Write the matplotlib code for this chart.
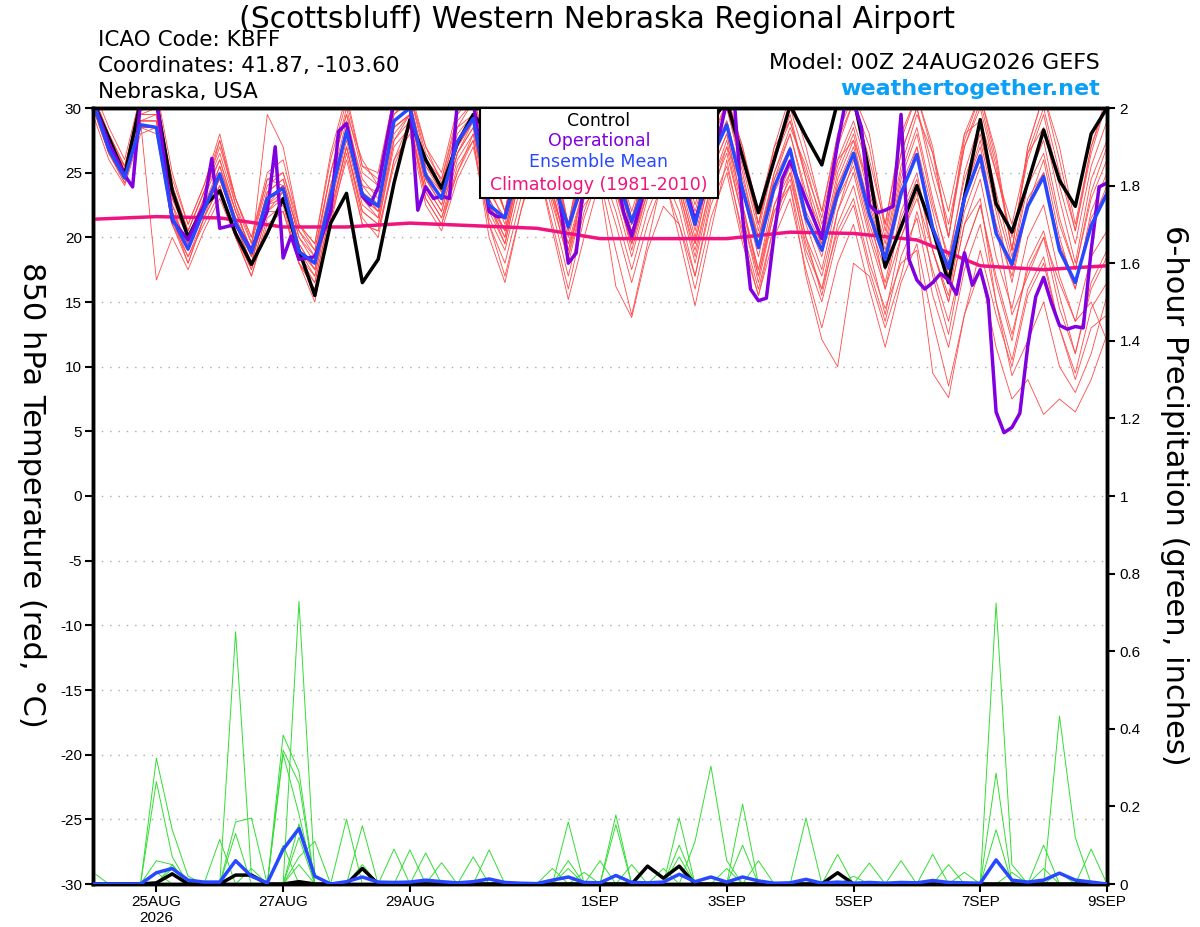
import matplotlib
matplotlib.use("Agg")
import matplotlib.pyplot as plt
from matplotlib.patches import Rectangle

plt.rcParams['font.family'] = ['Liberation Sans', 'DejaVu Sans']
WIDE = ['DejaVu Sans']

# ---------------- data ----------------
hours = list(range(0, 385, 6))  # 00Z 24AUG2026 .. 00Z 09SEP2026, 6-hourly

ens_mean = [30.5, 26.8, 24.6, 28.7, 28.5, 21.5, 19.1, 22.1, 24.9, 21.1, 18.8, 23.0, 23.8, 18.9, 18.0, 23.2,
            28.2, 23.3, 22.4, 29.0, 30.0, 24.8, 23.0, 27.4, 29.2, 22.5, 21.5, 26.0, 28.0, 24.5, 20.8, 24.5,
            27.5, 25.0, 21.2, 24.5, 27.5, 25.0, 21.0, 26.0, 28.7, 23.7, 19.2, 23.9, 26.8, 21.5, 19.0, 23.4,
            26.5, 21.8, 18.3, 23.4, 26.4, 20.7, 17.6, 23.0, 26.3, 20.3, 17.9, 22.4, 24.7, 19.0, 16.5, 20.9, 23.4]

control = [30.5, 27.7, 24.8, 30.5, 30.5, 23.6, 20.0, 22.4, 23.6, 20.3, 17.9, 20.3, 23.0, 19.0, 15.5, 21.1,
           23.4, 16.5, 18.3, 24.2, 29.1, 26.0, 23.8, 27.3, 29.5, 28.0, 26.0, 28.5, 31.0, 27.5, 25.0, 28.0,
           31.0, 28.0, 25.5, 28.0, 31.0, 28.0, 25.5, 29.0, 30.5, 26.2, 21.9, 26.0, 30.2, 27.8, 25.6, 30.5,
           30.8, 25.0, 17.7, 20.8, 24.0, 20.6, 16.5, 23.1, 29.1, 22.6, 20.4, 24.2, 28.3, 24.4, 22.4, 28.0, 30.0]

op_hours = [0, 6, 12, 15, 18, 24, 30, 36, 42, 45, 48, 54, 60, 66, 69, 72, 75, 78, 84, 90, 93, 96,
            102, 105, 108, 114, 120, 123, 126, 129, 132, 135, 138, 144, 150, 153, 156, 162, 168, 174,
            177, 180, 183, 186, 192, 198, 201, 204, 210, 216, 222, 228, 234, 240, 243, 246, 249, 252,
            255, 258, 261, 264, 270, 276, 282, 285, 288, 291, 294, 297, 300, 303, 306, 309, 312, 315,
            318, 321, 324, 327, 330, 333, 336, 339, 342, 345, 348, 351, 354, 357, 360, 363, 366, 369,
            372, 375, 378, 381, 384]
op_temp = [30.5, 27.3, 24.8, 23.9, 30.5, 30.8, 21.3, 19.8, 22.5, 26.1, 20.7, 21.0, 19.0, 22.0, 27.0, 18.4,
           20.1, 18.3, 18.5, 22.0, 28.2, 28.8, 23.2, 22.5, 23.9, 30.5, 30.5, 22.1, 23.9, 23.0, 23.2, 23.0,
           30.5, 30.5, 22.0, 21.6, 21.6, 26.0, 29.0, 25.0, 22.5, 18.0, 18.8, 24.5, 28.0, 25.0, 21.9, 20.1,
           24.5, 28.0, 25.5, 21.3, 25.0, 30.5, 30.2, 21.6, 16.0, 15.1, 15.3, 20.3, 24.5, 25.9, 22.9, 19.9,
           27.3, 30.5, 30.5, 28.5, 22.5, 21.9, 22.1, 22.4, 29.5, 18.3, 16.7, 16.0, 16.5, 17.2, 16.7, 15.6,
           18.8, 16.3, 17.5, 15.2, 6.5, 4.9, 5.3, 6.4, 11.6, 15.4, 16.9, 14.9, 13.2, 12.9, 13.1, 13.0,
           19.0, 23.9, 24.2]

clim_hours = list(range(0, 385, 24))
climatology = [21.4, 21.6, 21.5, 20.8, 20.8, 21.1, 20.9, 20.7, 19.9, 19.9, 19.9, 20.4, 20.3, 19.8, 17.8, 17.5, 17.8]

m01 = [31, 28, 25.5, 30, 31, 24, 20.5, 23.5, 26.5, 22.5, 19.5, 24, 25, 20.5, 19, 25, 30, 25, 24, 30.5, 31, 26.5, 24.5, 29,
       30.5, 25, 22, 27.5, 30, 26, 21, 26, 29.5, 26.5, 21, 26, 29.5, 26.5, 21, 27.5, 30.5, 26, 21, 26, 29, 25, 21.5, 27,
       30.5, 27, 20.5, 26.5, 30, 24.5, 20, 27, 30.5, 25.5, 19, 26.5, 30, 25, 20.5, 27, 30.5]
m02 = [30.5, 27, 24.8, 29, 29, 22, 19.5, 22.5, 25, 21.5, 18.5, 23, 24, 19, 17.5, 23.5, 28.5, 23.5, 22.5, 29, 30, 24.5, 23, 27,
       29.5, 23, 20.5, 25.5, 28.5, 24, 19.5, 24, 28, 25, 20.5, 24.5, 27, 24.5, 20, 25.5, 29, 23.5, 18.5, 24, 27, 22, 19.5, 24,
       27, 22.5, 18.5, 24, 27, 21, 17, 23.5, 27, 21, 17.5, 23, 25, 19.5, 16.5, 21, 24]
m03 = [30, 26.5, 24.2, 28.5, 28, 21, 18.5, 21.5, 24, 20.5, 17.5, 22, 23, 18.5, 17, 22.5, 27.5, 22.5, 21.5, 28, 29.5, 24, 22, 26.5,
       28.5, 22, 19.5, 25, 27, 23, 18, 23, 26.5, 23.5, 19.5, 23.5, 26.5, 23.5, 19, 24, 27.5, 22, 17.5, 22.5, 25.5, 20, 17, 22,
       25, 20, 16, 21.5, 24.5, 19, 15, 21, 24.5, 18.5, 14.5, 20, 22.5, 17, 13.5, 18.5, 20.5]
m04 = [30.5, 27.5, 25, 29.5, 29.5, 22.5, 19, 22, 24.5, 21, 18, 22.5, 23.5, 18, 16.5, 22, 27, 22, 21, 27.5, 29, 23.5, 21.5, 26,
       28, 21.5, 19, 24, 26.5, 22, 17, 22, 25.5, 22, 17.5, 22, 25, 22, 17, 22.5, 25.5, 20.5, 16, 21, 24, 18.5, 15, 20,
       22.5, 17.5, 13.5, 18.5, 21.5, 15.5, 11.5, 17.5, 21, 15, 10.5, 16, 18.5, 13, 9.5, 14.5, 16.5]
m05 = [29.5, 26, 24, 28, 28.5, 21.5, 18.5, 21, 23.5, 20, 17, 21.5, 22.5, 18, 16, 21.5, 27, 22, 21, 27, 28.5, 23, 21, 25.5,
       27.5, 21, 18, 23, 26, 21, 16, 21.5, 25, 21, 16.5, 21, 24.5, 21, 16, 21.5, 25, 19.5, 15.5, 20, 23, 17.5, 13, 18,
       21, 16, 11.5, 16.5, 19.5, 13.5, 8.5, 14, 17.5, 11.5, 7.5, 9, 6.3, 7.5, 6.5, 9, 12.5]
m06 = [31.5, 28.5, 26, 31, 31.5, 25, 21, 24, 27.5, 23, 20, 25, 26, 21, 19.5, 26.5, 31, 25.5, 25, 31, 31.5, 27, 25, 30,
       31, 26, 22, 28, 31, 27, 21, 27, 31, 27, 21, 27, 31, 27, 21, 28, 31, 27, 21, 27, 31, 27, 22, 28,
       31, 28, 21, 28, 31, 27, 20, 28, 31, 26, 19, 27, 31, 27, 21, 27, 31]
m07 = [30.5, 27.5, 25, 29, 16.7, 20, 17.5, 20.5, 23, 20, 17, 21, 22, 18, 16, 21, 26.5, 21, 20.5, 26, 29, 23, 21, 25,
       28, 22.5, 20.5, 26, 28.5, 25.5, 20.5, 25.5, 29, 26, 22, 26, 28.5, 25.5, 20.5, 26.5, 30, 25, 19.5, 25, 28, 23.5, 20.5, 25.5,
       28.5, 23.5, 19, 25, 28.5, 23, 18, 25, 29, 23.5, 18.5, 24.5, 27.5, 21.5, 17.5, 23.5, 27]
m08 = [30, 26.5, 24.5, 28.5, 28.5, 21.5, 19, 22, 24.5, 21, 18, 22.5, 23, 18.5, 16.5, 22, 27, 21.5, 20, 26, 28, 22.5, 20.5, 24.5,
       27, 21, 17, 22, 26, 20.5, 15.2, 20, 24.5, 19, 14, 19.5, 25, 20, 14.7, 20.5, 26, 20, 15.5, 21, 25, 19, 16, 22,
       26, 21, 17.5, 23, 27, 22, 17, 23.5, 27.5, 22, 16.5, 22.5, 26, 20, 16, 22, 25]
m09 = [31, 27.5, 25.5, 30, 30, 23, 20, 23, 26, 22, 19, 23.5, 24.5, 20, 18.5, 24, 29, 24.5, 23, 29.5, 30.5, 25.5, 23.5, 28,
       29.5, 24, 21, 26.5, 29.5, 25, 20.5, 25.5, 29, 25.5, 21.5, 25.5, 29, 25.5, 21.5, 26.5, 30, 25.5, 20.5, 26, 29.5, 24.5, 20.5, 26,
       29, 25, 20, 26.5, 30, 25.5, 21, 27, 30, 25, 20, 26, 29.5, 24, 19.5, 25.5, 29]
m10 = [30, 27, 24.5, 29, 29, 21.5, 18, 21.5, 24, 20, 17.5, 22, 23.5, 19, 17, 23, 28.5, 23, 22, 28.5, 29.5, 24, 22, 26.5,
       29, 22.5, 20, 25.5, 28, 23.5, 19, 24, 27, 24, 19.5, 24, 27, 24, 19.5, 25, 28, 22.5, 17, 22, 24, 17, 12.1, 10,
       18, 17, 13, 17, 22, 17.5, 13.5, 19, 22.5, 17, 12.5, 17.5, 20, 14.5, 11, 16, 18.5]
m11 = [30.5, 26.8, 24.5, 29, 29.5, 22, 19, 22.5, 25.5, 22, 19, 23.5, 24.5, 20, 18, 24, 28, 24, 22.5, 28.5, 29.5, 24.5, 22.5, 26.5,
       28.5, 22.5, 19.5, 25, 27.5, 22.5, 18.5, 23, 26.5, 23, 18.5, 23, 26, 23, 18, 23.5, 26.5, 21.5, 17, 22.5, 25, 20, 15.5, 21,
       24, 19, 14, 20, 23.5, 17, 12.5, 19, 22.5, 16.5, 12, 18, 20.5, 15.5, 11, 16.5, 19]
m12 = [30.5, 27.2, 25, 29.5, 30, 23, 20.5, 23.5, 26, 22, 19, 29.5, 27, 21, 19, 25, 29.5, 24, 23.5, 30, 30.5, 25.5, 24, 28.5,
       29.5, 23.5, 21.5, 27, 29, 24.5, 20, 25, 28.5, 26, 21.5, 25.5, 28.5, 26, 22, 26.5, 29, 24.5, 20, 24.5, 28, 23, 19.5, 25,
       28, 23, 18.5, 24.5, 28, 22.5, 18.5, 24.5, 28, 22.5, 18, 24, 26.5, 21, 17.5, 23, 26]
m13 = [30, 26.5, 24.2, 28.5, 28.5, 21, 18, 21.5, 25, 21, 18, 23, 24, 19.5, 17.5, 23.5, 28, 23, 21.5, 27.5, 29.5, 25, 23, 27,
       29, 23, 20.5, 26, 28, 23.5, 19, 23.5, 27.5, 24, 19, 23.5, 26.5, 23.5, 18.5, 24, 27, 21.5, 16.5, 22, 24.5, 19.5, 16, 20.5,
       23, 18, 14.5, 18, 19, 9.5, 7.6, 14, 19, 14, 10, 15.5, 18, 13, 9, 13, 14]
m14 = [31, 28, 25.5, 30.5, 30.5, 24, 20.5, 23.5, 27, 23, 20, 24.5, 25, 21, 19.5, 26, 30.5, 25.5, 24.5, 31, 31, 26, 24.5, 29.5,
       31, 25.5, 22, 28, 30.5, 26.5, 21, 27, 30.5, 27, 21, 26.5, 30.5, 26.5, 21, 28, 31, 26.5, 21, 26.5, 30, 26, 22, 27.5,
       30.5, 26, 21, 27.5, 31, 26.5, 20, 27.5, 31, 26.5, 19, 27, 31, 26, 20.5, 26.5, 30.5]
m15 = [30.5, 26.5, 24.5, 28.5, 28.5, 21, 19, 22, 25.5, 21.5, 19, 23, 23.5, 18.5, 18, 23, 28.5, 23.5, 22, 29, 30, 25, 23.5, 27.5,
       29, 22.5, 21.5, 26, 28, 24.5, 21, 25, 27.5, 25, 21, 24.5, 27.5, 25, 21.5, 26, 28.5, 24, 19.5, 24.5, 27, 21.5, 18.5, 24,
       26.5, 21.5, 18, 23.5, 26.5, 20.5, 17.5, 23, 26, 20.5, 17, 22.5, 25, 19, 16, 21.5, 23.5]
m16 = [30, 27, 24.8, 29, 29, 22, 19.5, 22.5, 24.5, 21, 18.5, 22.5, 24, 19.5, 17.5, 23, 28, 23.5, 22, 28.5, 29.5, 24.5, 22.5, 27,
       29, 22.5, 20, 25.5, 27.5, 23.5, 18.5, 24, 27, 23.5, 19.5, 24, 27, 24, 19.5, 25, 28, 22.5, 17.5, 23.5, 26, 21, 17.5, 23,
       25.5, 20.5, 16.5, 22, 25, 19, 15, 21, 23, 15, 9.3, 12, 15, 10, 8, 11, 15.5]
m17 = [30.5, 27, 25.5, 29.5, 29.5, 22.5, 20, 23, 27.5, 22.5, 18.5, 22, 22, 18, 15, 21.5, 26, 21, 20.5, 25.5, 28.5, 23.5, 21.5, 25,
       27.5, 20, 16.5, 22, 27, 23, 19.5, 22.5, 24, 16.2, 13.8, 19, 22.4, 21, 17, 23, 27, 24, 20, 25, 28.5, 25.5, 21, 26,
       27.5, 22, 16, 20, 23, 19, 15.5, 22, 25.5, 21, 14, 17, 20, 16.5, 13.5, 15, 12]
m18 = [31, 27.8, 25.2, 29.8, 30.2, 24.5, 21, 24, 28, 23, 19.6, 24.5, 24, 20.5, 18.5, 25, 29.5, 26, 24, 29.5, 31, 27, 24.2, 28.5,
       30.5, 25.5, 22, 27.5, 30.5, 26.5, 20.5, 26.5, 30.5, 26, 20, 26, 30, 27, 22.5, 27, 30.5, 27, 22, 27, 29, 24.5, 19, 24.5,
       27.5, 24, 19.5, 25.5, 29.5, 26.5, 22, 28, 29, 25, 21, 26.5, 28.5, 23, 18, 24.5, 27.5]
members = [m01, m02, m03, m04, m05, m06, m07, m08, m09, m10, m11, m12, m13, m14, m15, m16, m17, m18]

Z = 0
p01 = [Z, Z, Z, Z, .324, .14, .02, Z, Z, Z, Z, Z, Z, .728, .02, Z, Z, Z, Z, Z, Z, Z, Z, Z, Z, Z, Z, Z, Z, Z, .16, Z,
       Z, Z, Z, Z, Z, Z, Z, Z, Z, Z, Z, Z, Z, Z, Z, Z, Z, Z, Z, Z, Z, Z, Z, Z, Z, .724, .05, Z, Z, Z, Z, Z, Z]
p02 = [Z, Z, Z, Z, .264, .07, Z, Z, Z, .65, .02, Z, Z, Z, Z, Z, Z, Z, Z, Z, Z, Z, Z, Z, Z, Z, Z, Z, Z, Z, Z, Z,
       Z, .178, Z, Z, Z, Z, .11, .304, .06, Z, Z, Z, Z, Z, Z, Z, Z, Z, Z, Z, Z, Z, Z, Z, Z, Z, Z, Z, Z, .433, .12, Z, Z]
p03 = [Z, Z, Z, Z, Z, .05, Z, Z, Z, .16, .17, Z, .384, .29, Z, Z, Z, Z, Z, Z, Z, Z, Z, Z, Z, Z, Z, Z, Z, Z, Z, Z,
       Z, Z, Z, Z, Z, .17, Z, Z, Z, Z, Z, Z, Z, Z, Z, Z, Z, Z, Z, Z, Z, Z, Z, Z, Z, .286, Z, Z, Z, Z, Z, Z, Z]
p04 = [Z, Z, Z, Z, .06, .05, Z, Z, Z, Z, Z, Z, .345, .26, Z, Z, Z, Z, Z, Z, Z, Z, Z, Z, Z, Z, Z, Z, Z, Z, Z, Z,
       Z, Z, Z, Z, Z, Z, Z, Z, Z, .206, Z, Z, Z, Z, Z, Z, Z, Z, Z, Z, Z, Z, Z, Z, Z, .14, Z, Z, Z, Z, Z, Z, Z]
p05 = [Z, Z, Z, Z, Z, .04, Z, Z, Z, Z, Z, Z, .335, .18, Z, Z, .167, Z, Z, Z, Z, Z, Z, Z, Z, Z, Z, Z, Z, Z, Z, Z,
       Z, .153, Z, Z, Z, Z, Z, Z, Z, Z, Z, Z, Z, .17, Z, Z, Z, Z, Z, Z, Z, Z, Z, Z, Z, Z, Z, Z, Z, Z, Z, Z, Z]
p06 = [Z, Z, Z, Z, Z, Z, Z, Z, .115, Z, Z, Z, Z, .155, Z, Z, Z, .15, Z, Z, Z, Z, Z, Z, Z, Z, Z, Z, Z, Z, Z, Z,
       Z, Z, Z, Z, Z, .10, Z, Z, Z, Z, Z, Z, Z, Z, Z, Z, Z, Z, Z, Z, Z, Z, Z, Z, Z, Z, Z, Z, .10, Z, Z, Z, Z]
p07 = [Z, Z, Z, Z, Z, Z, Z, Z, Z, .13, Z, Z, Z, .07, .11, Z, Z, Z, Z, Z, .088, Z, Z, Z, Z, .088, Z, Z, Z, Z, Z, Z,
       Z, Z, Z, Z, Z, Z, Z, Z, Z, Z, Z, Z, Z, Z, Z, Z, Z, Z, Z, Z, Z, Z, Z, Z, Z, Z, Z, Z, Z, Z, Z, .09, Z]
p08 = [.03, Z, Z, Z, .03, Z, Z, Z, Z, Z, Z, Z, Z, Z, Z, Z, Z, .05, Z, Z, Z, .08, Z, Z, .07, Z, Z, Z, Z, Z, .06, Z,
       Z, Z, Z, Z, Z, Z, Z, Z, Z, .10, Z, Z, Z, Z, Z, Z, Z, Z, Z, Z, Z, .077, Z, Z, Z, Z, Z, Z, Z, Z, Z, Z, Z]
p09 = [Z, Z, Z, Z, Z, Z, Z, Z, Z, Z, Z, Z, Z, Z, Z, Z, Z, Z, Z, .09, Z, Z, .055, Z, Z, Z, Z, Z, Z, Z, Z, Z,
       .06, Z, Z, Z, Z, .07, Z, Z, Z, Z, .06, Z, Z, Z, Z, .076, Z, Z, Z, .06, Z, Z, Z, Z, Z, Z, Z, Z, Z, Z, Z, Z, Z]
p10 = [Z, Z, Z, Z, Z, Z, Z, Z, Z, Z, .04, Z, Z, .05, Z, Z, Z, Z, Z, Z, Z, Z, Z, Z, Z, Z, Z, Z, Z, Z, .04, Z,
       Z, Z, .05, Z, Z, Z, Z, Z, Z, Z, Z, Z, Z, Z, Z, Z, Z, .054, Z, Z, Z, Z, .05, Z, Z, Z, .03, Z, Z, Z, Z, Z, Z]
p11 = [Z, Z, Z, Z, Z, .03, Z, Z, Z, Z, Z, Z, .10, Z, Z, Z, Z, Z, Z, Z, Z, Z, Z, Z, Z, Z, Z, Z, Z, .04, Z, Z,
       Z, Z, Z, Z, .04, Z, Z, Z, Z, Z, Z, Z, Z, Z, Z, Z, Z, Z, Z, Z, Z, Z, Z, .03, Z, Z, Z, Z, .04, Z, Z, Z, Z]
p12 = [Z, Z, Z, Z, Z, Z, Z, Z, Z, Z, Z, Z, Z, .12, Z, Z, Z, Z, Z, Z, Z, Z, Z, Z, Z, Z, Z, Z, Z, Z, Z, .03,
       Z, Z, Z, Z, Z, Z, Z, Z, .04, Z, Z, Z, Z, Z, Z, Z, .02, Z, Z, Z, Z, Z, Z, Z, Z, Z, Z, Z, Z, .03, Z, Z, Z]
precip_members = [p01, p02, p03, p04, p05, p06, p07, p08, p09, p10, p11, p12]

precip_mean = [0, 0, 0, 0, .029, .04, .01, .005, .005, .06, .02, .003, .089, .143, .02, 0,
               .006, .018, .005, .004, .005, .01, .006, .003, .006, .013, .004, .002, .001, .01, .018, .004,
               .003, .022, .004, .003, .005, .025, .006, .018, .005, .018, .008, .002, .003, .012, .002, .005,
               .002, .004, .002, .004, .003, .009, .004, .003, .002, .062, .01, .005, .01, .028, .01, .005, 0]
precip_control = [0, 0, 0, 0, .003, .026, 0, 0, 0, .023, .023, 0, 0, .006, 0, 0,
                  0, .04, 0, 0, 0, 0, 0, 0, 0, 0, 0, 0, 0, 0, 0, 0,
                  0, 0, 0, .046, .015, .046, 0, 0, 0, 0, 0, 0, 0, 0, 0, .029,
                  0, 0, 0, 0, 0, 0, 0, 0, 0, 0, 0, 0, 0, 0, 0, 0, 0]

tick_hours = [24, 72, 120, 192, 240, 288, 336, 384]
tick_labels = ['25AUG\n2026', '27AUG', '29AUG', '1SEP', '3SEP', '5SEP', '7SEP', '9SEP']
temp_ticks = list(range(-30, 31, 5))
precip_ticks = [0, 0.2, 0.4, 0.6, 0.8, 1, 1.2, 1.4, 1.6, 1.8, 2]
precip_tick_labels = ['0', '0.2', '0.4', '0.6', '0.8', '1', '1.2', '1.4', '1.6', '1.8', '2']

# ---------------- figure ----------------
fig = plt.figure(figsize=(12, 9.27), dpi=100)
ax = fig.add_axes([93 / 1200, 1 - 884 / 927, (1107 - 93) / 1200, (884 - 108) / 927])
ax.set_xlim(0, 384)
ax.set_ylim(-30, 30)

for g in range(-25, 30, 5):
    ax.axhline(g, color='#aaaaaa', lw=1.0, ls=(0, (1, 5)), zorder=0)

for m in members:
    ax.plot(hours, m, color='#ff4a4a', lw=0.6, zorder=2)
ax.plot(clim_hours, climatology, color='#f0147f', lw=2.5, zorder=4)
ax.plot(hours, control, color='black', lw=2.5, zorder=5)
ax.plot(op_hours, op_temp, color='#8000e0', lw=2.5, zorder=6)
ax.plot(hours, ens_mean, color='#2848ff', lw=2.5, zorder=7)

ax.set_yticks(temp_ticks)
ax.set_yticklabels([str(t) for t in temp_ticks])
ax.set_xticks(tick_hours)
ax.set_xticklabels(tick_labels)
ax.tick_params(axis='both', direction='out', length=6, width=1.5, labelsize=11, pad=2)

ax2 = ax.twinx()
ax2.set_ylim(0, 2)
ax2.set_xlim(0, 384)
for p in precip_members:
    ax2.plot(hours, p, color='#33dd33', lw=0.7, zorder=2)
ax2.plot(hours, precip_control, color='black', lw=2.5, zorder=3)
ax2.plot(hours, precip_mean, color='#2848ff', lw=2.5, zorder=4)
ax2.set_yticks(precip_ticks)
ax2.set_yticklabels(precip_tick_labels)
ax2.tick_params(axis='y', direction='out', length=6, width=1.5, labelsize=11, pad=3)

for a in (ax, ax2):
    for s in a.spines.values():
        s.set_linewidth(2.5)
        s.set_color('black')

# legend box
ax2.add_patch(Rectangle((0.3817, 0.884), 0.2347, 0.116, transform=ax2.transAxes,
                        facecolor='white', edgecolor='black', lw=1.5, zorder=20, clip_on=False))
leg = [('Control', 'black', 0.9832), ('Operational', '#8000e0', 0.9575),
       ('Ensemble Mean', '#2848ff', 0.9304), ('Climatology (1981-2010)', '#f0147f', 0.9008)]
for txt, col, yy in leg:
    ax2.text(0.499, yy, txt, color=col, fontsize=12.5, ha='center', va='center', family=WIDE,
             transform=ax2.transAxes, zorder=21)

# header texts
fig.text(0.4975, 0.979, '(Scottsbluff) Western Nebraska Regional Airport', fontsize=21.5,
         ha='center', va='center', family=WIDE)
fig.text(0.0817, 0.9569, 'ICAO Code: KBFF', fontsize=15.5, ha='left', va='center', family=WIDE)
fig.text(0.0817, 0.9288, 'Coordinates: 41.87, -103.60', fontsize=15.5, ha='left', va='center', family=WIDE)
fig.text(0.0817, 0.9008, 'Nebraska, USA', fontsize=15.5, ha='left', va='center', family=WIDE)
fig.text(0.9167, 0.932, 'Model: 00Z 24AUG2026 GEFS', fontsize=16, ha='right', va='center', family=WIDE)
fig.text(0.9167, 0.904, 'weathertogether.net', fontsize=16, ha='right', va='center',
         color='#0aa0f8', fontweight='bold', family=WIDE)

fig.text(0.026, 0.466, '850 hPa Temperature (red, \u00b0C)', fontsize=22, rotation=270,
         ha='center', va='center', family=WIDE)
fig.text(0.979, 0.466, '6-hour Precipitation (green, inches)', fontsize=22, rotation=270,
         ha='center', va='center', family=WIDE)

fig.savefig('out.png', dpi=100)
